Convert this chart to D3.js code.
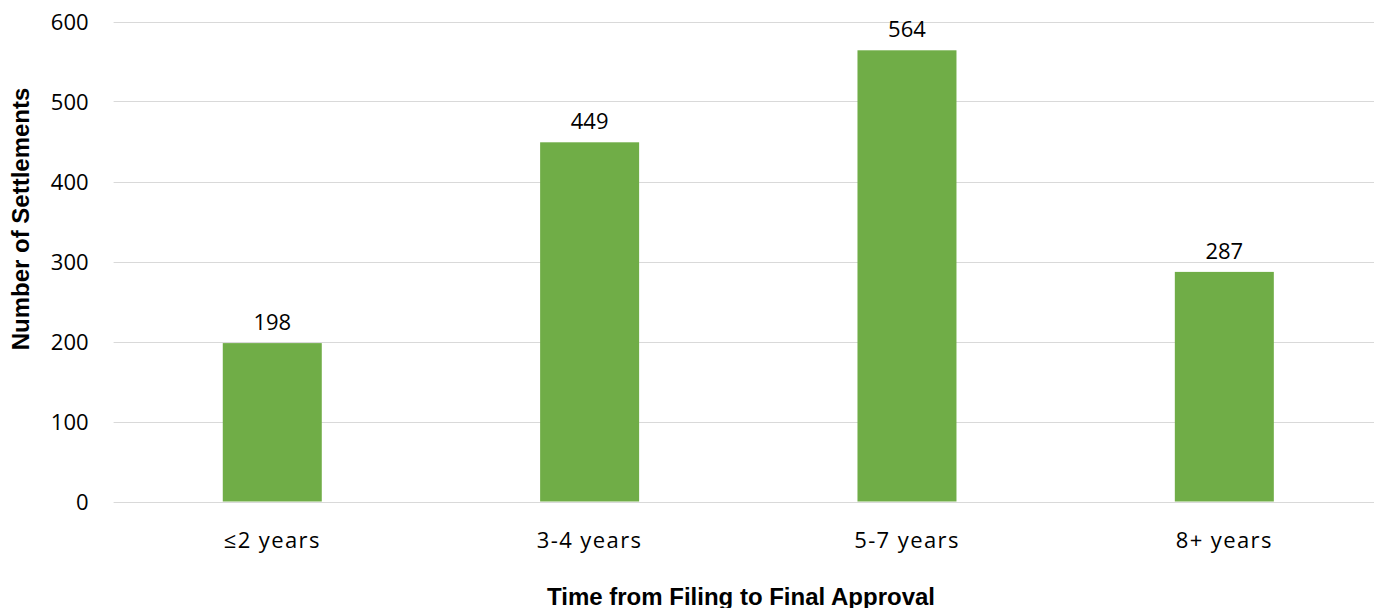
<!DOCTYPE html>
<html lang="en">
<meta charset="utf-8">
<style>
body { margin: 0; background: #fff; }
.tick text { font-family: "Open Sans", sans-serif; font-size: 22px; fill: #000; }
.xaxis .tick text { letter-spacing: 1.4px; }
.grid line { stroke: #d9d9d9; stroke-width: 1px; }
.bar { fill: #70ad47; }
.label { font-family: "Open Sans", sans-serif; font-size: 22px; fill: #000; }
.axis-title { font-family: "Liberation Sans", Arial, sans-serif; font-size: 24px; font-weight: bold; fill: #000; }
</style>
<body>
<script src="https://d3js.org/d3.v7.min.js"></script>
<script>

var categories = ["≤2 years", "3-4 years", "5-7 years", "8+ years"];
var settlements = [198, 449, 564, 287];
var yTicks = [0, 100, 200, 300, 400, 500, 600];

var W = 1374, H = 608;
var plotLeft = 113.6, plotRight = 1383, plotTop = 21.5, plotBottom = 501.5;

var svg = d3.select("body").append("svg")
    .attr("width", W)
    .attr("height", H);

var x = d3.scaleBand().domain(categories).range([plotLeft, plotRight]).paddingInner(0).paddingOuter(0);
var y = d3.scaleLinear().domain([0, 600]).range([plotBottom, plotTop]);
var barW = 99;

// gridlines
svg.append("g")
    .attr("class", "grid")
    .selectAll("line")
    .data(yTicks)
  .enter().append("line")
    .attr("x1", plotLeft)
    .attr("x2", W)
    .attr("y1", function(d) { return Math.round(y(d)) + 0.5; })
    .attr("y2", function(d) { return Math.round(y(d)) + 0.5; });

// y axis labels
var yAxis = svg.append("g")
    .attr("transform", "translate(" + (plotLeft - 25) + ",0)")
    .call(d3.axisLeft(y).tickValues(yTicks).tickSize(0).tickPadding(0));
yAxis.select(".domain").remove();
yAxis.selectAll("text").attr("dy", "0.35em");

// bars
svg.selectAll(".bar")
    .data(settlements)
  .enter().append("rect")
    .attr("class", "bar")
    .attr("x", function(d, i) { return x(categories[i]) + x.bandwidth() / 2 - barW / 2; })
    .attr("y", function(d) { return y(d); })
    .attr("width", barW)
    .attr("height", function(d) { return y(0) - y(d); });

// value labels
svg.selectAll(".label")
    .data(settlements)
  .enter().append("text")
    .attr("class", "label")
    .attr("x", function(d, i) { return x(categories[i]) + x.bandwidth() / 2; })
    .attr("y", function(d) { return y(d) - 13; })
    .attr("text-anchor", "middle")
    .text(function(d) { return d; });

// x axis labels
var xAxis = svg.append("g")
    .attr("class", "xaxis")
    .attr("transform", "translate(0,548)")
    .call(d3.axisBottom(x).tickSize(0).tickPadding(0));
xAxis.select(".domain").remove();
xAxis.selectAll("text").attr("y", 0).attr("dy", 0);

// axis titles
svg.append("text")
    .attr("class", "axis-title")
    .attr("transform", "translate(29,219) rotate(-90)")
    .attr("text-anchor", "middle")
    .text("Number of Settlements");

svg.append("text")
    .attr("class", "axis-title")
    .attr("x", 741)
    .attr("y", 605)
    .attr("text-anchor", "middle")
    .text("Time from Filing to Final Approval");

</script>
</body>
</html>
